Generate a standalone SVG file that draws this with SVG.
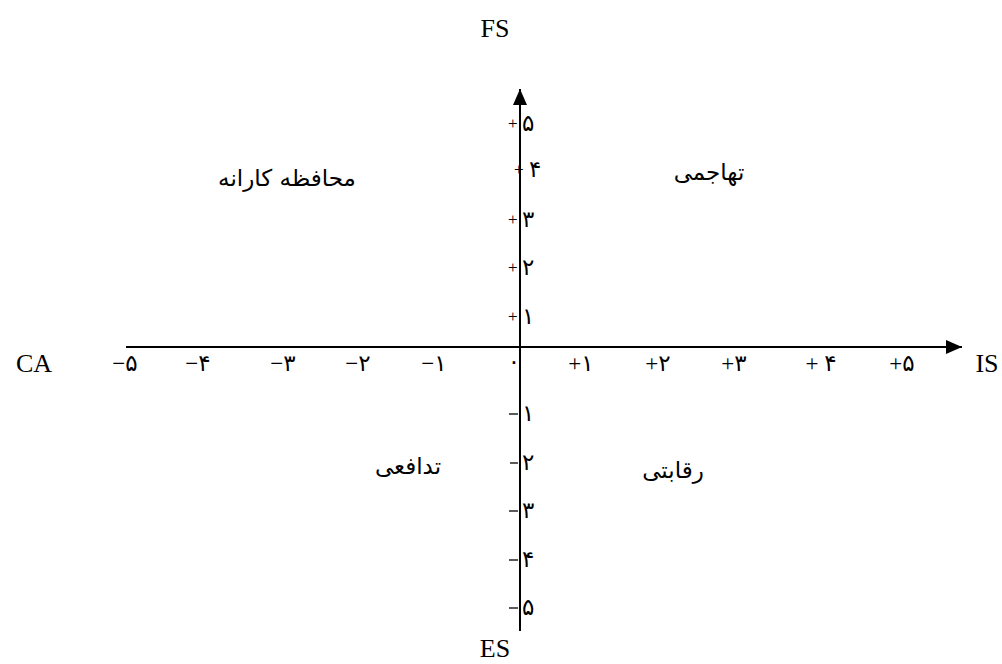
<svg xmlns="http://www.w3.org/2000/svg" width="1002" height="664" viewBox="0 0 1002 664">
<style>
.ax{stroke:#000;stroke-width:2;fill:none}
.lat{font-family:"Liberation Serif","Times New Roman",serif;font-size:26px;fill:#000}
.num{font-family:"Liberation Serif","DejaVu Sans","Noto Sans",serif;font-size:23px;fill:#000}
.pl{font-family:"Liberation Serif",serif;font-size:17px;fill:#000}
.fa{font-family:"DejaVu Sans","Noto Sans",sans-serif;font-size:23px;fill:#000}
.tk{stroke:#000;stroke-width:1.3}
</style>
<defs>
<marker id="ah" viewBox="0 0 16 14" refX="16" refY="7" markerWidth="16" markerHeight="14" markerUnits="userSpaceOnUse" orient="auto">
<path d="M0,0 L16,7 L0,14 Z" fill="#000"/>
</marker>
</defs>
<rect width="1002" height="664" fill="#fff"/>
<g id="connectors">
<line class="ax" x1="520" y1="631" x2="520" y2="89" marker-end="url(#ah)"/>
<line class="ax" x1="126" y1="347" x2="962" y2="347" marker-end="url(#ah)"/>
</g>
<g id="axis-labels">
<text id="FS" class="lat" x="495" y="37" text-anchor="middle">FS</text>
<text id="ES" class="lat" x="495" y="657" text-anchor="middle" font-size="25">ES</text>
<text id="CA" class="lat" x="34" y="372" text-anchor="middle">CA</text>
<text id="IS" class="lat" x="987" y="372" text-anchor="middle">IS</text>
</g>
<g id="ticks-top">
<text class="pl" x="508" y="129">+</text><text class="num" x="522" y="131">۵</text>
<text class="pl" x="514" y="175">+</text><text class="num" x="529" y="177">۴</text>
<text class="pl" x="508" y="225">+</text><text class="num" x="522" y="227">۳</text>
<text class="pl" x="508" y="273">+</text><text class="num" x="522" y="275">۲</text>
<text class="pl" x="508" y="322">+</text><text class="num" x="522" y="324">۱</text>
</g>
<g id="ticks-bottom">
<text class="num" x="514" y="369" text-anchor="middle">۰</text>
<line class="tk" x1="509" y1="414" x2="518" y2="414"/><text class="num" x="522" y="421">۱</text>
<line class="tk" x1="510" y1="463" x2="518" y2="463"/><text class="num" x="522" y="470">۲</text>
<line class="tk" x1="509" y1="511" x2="518" y2="511"/><text class="num" x="522" y="518">۳</text>
<line class="tk" x1="509" y1="560" x2="518" y2="560"/><text class="num" x="522" y="567">۴</text>
<line class="tk" x1="509" y1="608" x2="518" y2="608"/><text class="num" x="522" y="615">۵</text>
</g>
<g id="ticks-horizontal" class="num" text-anchor="middle" direction="ltr" unicode-bidi="bidi-override">
<text x="125" y="371">−۵</text>
<text x="198" y="371">−۴</text>
<text x="283" y="371">−۳</text>
<text x="358" y="371">−۲</text>
<text x="434" y="371">−۱</text>
<text x="581" y="371">+۱</text>
<text x="658" y="371">+۲</text>
<text x="734" y="371">+۳</text>
<text x="821" y="371">+ ۴</text>
<text x="902" y="371">+۵</text>
</g>
<g id="q-conservative"><text class="fa" x="287" y="186" text-anchor="middle">محافظه کارانه</text></g>
<g id="q-aggressive"><text class="fa" x="709" y="180" text-anchor="middle" font-size="25">تهاجمی</text></g>
<g id="q-defensive"><text class="fa" x="408" y="474" text-anchor="middle" font-size="24">تدافعی</text></g>
<g id="q-competitive"><text class="fa" x="673" y="478" text-anchor="middle" font-size="24">رقابتی</text></g>
</svg>
